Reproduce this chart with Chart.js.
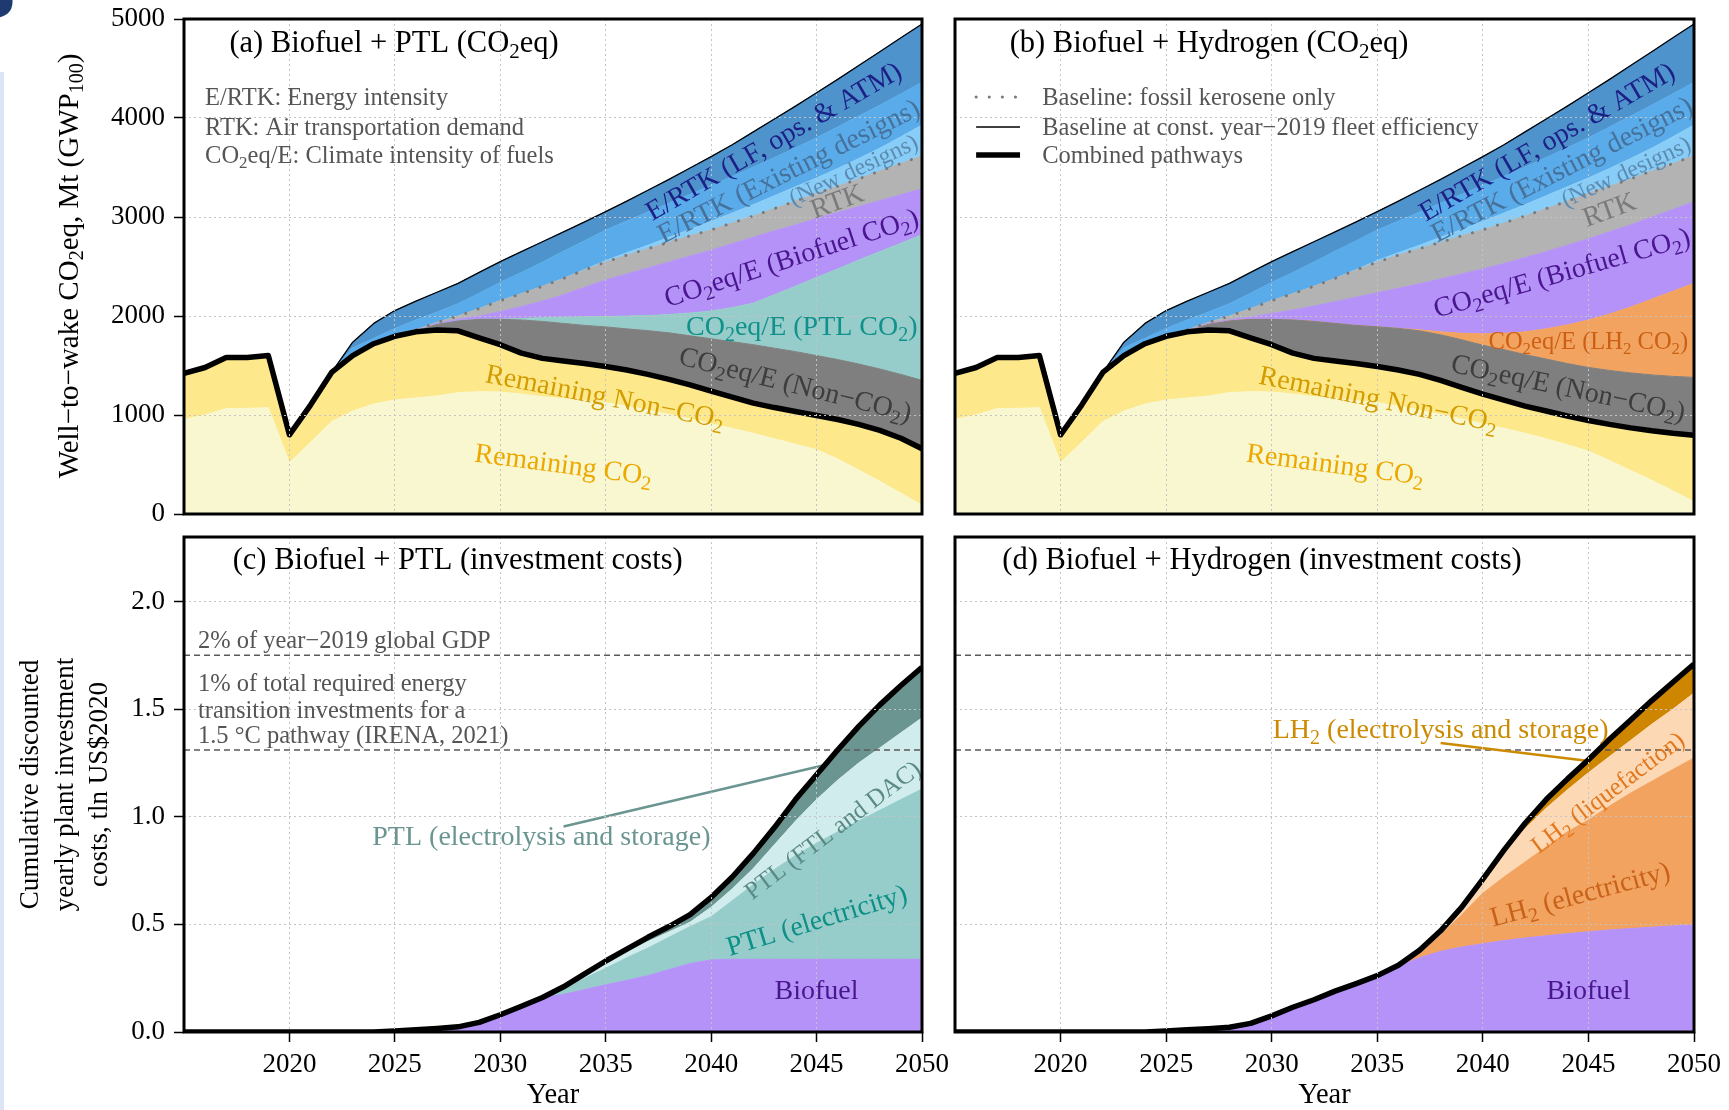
<!DOCTYPE html>
<html>
<head>
<meta charset="utf-8">
<title>Aviation CO2eq pathways and investment costs</title>
<script src="https://cdn.jsdelivr.net/npm/chart.js@4/dist/chart.umd.min.js"></script>
<style>
  html, body { margin: 0; padding: 0; background: #fff; }
  #page { position: relative; width: 1729px; height: 1110px; overflow: hidden; background: #fff; }
  canvas { position: absolute; }
  #edge { position: absolute; left: 0; top: 72px; width: 4px; height: 1038px; background: #dce5f5; }
  #glyph { position: absolute; left: -34px; top: -50px; line-height: 1; font: bold 72px 'DejaVu Sans', sans-serif; color: #1e3a70; }
</style>
</head>
<body>
<div id="page">
  <div id="edge"></div>
  <div id="glyph">S</div>
  <canvas id="chartA" width="940" height="528" style="left:0;top:0"></canvas>
  <canvas id="chartB" width="789" height="528" style="left:940px;top:0"></canvas>
  <canvas id="chartC" width="960" height="582" style="left:0;top:528px"></canvas>
  <canvas id="chartD" width="789" height="582" style="left:940px;top:528px"></canvas>
</div>
<script>
// ---------- data ----------
const YEARS = [2015,2016,2017,2018,2019,2020,2021,2022,2023,2024,2025,2026,2027,2028,2029,2030,2031,2032,2033,2034,
               2035,2036,2037,2038,2039,2040,2041,2042,2043,2044,2045,2046,2047,2048,2049,2050];
const X_TICKS = [2020, 2025, 2030, 2035, 2040, 2045, 2050];
const Y_TICKS_CO2 = [0, 1000, 2000, 3000, 4000, 5000];
const Y_TICKS_COST = [0, 0.5, 1.0, 1.5, 2.0];
const DOTTED_FROM = 2026;

// Panel (a) and (b): cumulative levels of the emission bands, Mt CO2eq
const baselineConst2019 = [1420,1480,1580,1580,1600,800,1100,1430,1735,1925, 2055,2150,2240,2330,2440,2549,2650,2750,2850,2950,
                           3054,3160,3270,3380,3495,3610,3730,3860,3990,4120, 4255,4390,4530,4670,4810,4950];
const existingDesignsTop = [1420,1480,1580,1580,1600,800,1100,1430,1680,1775, 1875,1960,2040,2125,2230,2340,2440,2545,2655,2760,
                            2869,2960,3050,3140,3230,3320,3410,3505,3600,3700, 3800,3910,4020,4130,4245,4360];
const newDesignsTop = [1420,1480,1580,1580,1600,800,1100,1430,1600,1720, 1795,1860,1935,2000,2075,2155,2225,2300,2380,2470,
                       2560,2640,2715,2795,2875,2955,3040,3125,3215,3305, 3395,3490,3590,3695,3810,3930];
const fossilKeroseneOnly = [1420,1480,1580,1580,1600,800,1100,1430,1600,1720, 1795,1860,1935,2000,2075,2155,2225,2300,2380,2465,
                            2545,2615,2680,2745,2810,2870,2940,3010,3085,3160, 3240,3310,3385,3465,3540,3620];

const biofuelTopA = [1420,1480,1580,1580,1600,800,1100,1430,1600,1720, 1795,1850,1925,1965,2000,2044,2095,2150,2215,2290,
                     2364,2425,2485,2545,2605,2665,2730,2795,2860,2920, 2985,3045,3105,3165,3225,3285];
const ptlTopA = [1420,1480,1580,1580,1600,800,1100,1430,1600,1720, 1795,1845,1915,1950,1966,1968,1975,1983,1988,1992,
                 1995,2000,2005,2015,2030,2050,2085,2130,2215,2300, 2390,2475,2565,2650,2735,2820];
const nonCO2TopA = [1420,1480,1580,1580,1600,800,1100,1430,1600,1720, 1795,1845,1915,1950,1966,1966,1960,1945,1925,1905,
                    1890,1870,1852,1830,1800,1770,1740,1710,1675,1640, 1600,1560,1515,1465,1410,1350];
const combinedA = [1420,1480,1580,1580,1600,800,1100,1430,1600,1720, 1795,1840,1858,1850,1780,1710,1625,1572,1545,1520,
                   1490,1455,1410,1360,1305,1240,1180,1120,1075,1035, 995,955,905,845,765,660];
const remainingCO2A = [956,1000,1065,1067,1074,518,724,933,1040,1111, 1152,1172,1192,1226,1236,1232,1212,1185,1165,1145,
                       1125,1090,1050,1005,960,910,865,815,760,705, 650,555,445,330,210,90];

const biofuelTopB = [1420,1480,1580,1580,1600,800,1100,1430,1600,1720, 1795,1850,1925,1960,1990,2025,2060,2100,2145,2190,
                     2235,2280,2325,2375,2425,2475,2530,2590,2650,2715, 2780,2850,2920,3000,3075,3155];
const lh2TopB = [1420,1480,1580,1580,1600,800,1100,1430,1600,1720, 1795,1845,1915,1950,1966,1966,1960,1945,1925,1905,
                 1890,1875,1860,1840,1825,1820,1825,1840,1870,1910, 1960,2020,2090,2170,2250,2330];
const nonCO2TopB = [1420,1480,1580,1580,1600,800,1100,1430,1600,1720, 1795,1845,1915,1950,1966,1966,1960,1945,1925,1905,
                    1890,1875,1850,1810,1760,1705,1660,1610,1565,1520, 1480,1450,1425,1405,1390,1380];
const combinedB = [1420,1480,1580,1580,1600,800,1100,1430,1600,1720, 1795,1840,1858,1850,1780,1710,1625,1572,1545,1520,
                   1490,1455,1410,1350,1280,1210,1150,1090,1040,990, 945,905,870,840,815,795];
const remainingCO2B = [956,1000,1065,1067,1074,518,724,933,1040,1111, 1152,1172,1192,1226,1236,1232,1212,1185,1165,1145,
                       1125,1090,1050,1005,960,910,865,815,760,700, 635,540,440,340,235,125];

// Panel (c) and (d): cumulative discounted investment levels, tln US$2020
const combinedC = [0,0,0,0,0,0,0,0,0,0, 0.005,0.01,0.016,0.024,0.045,0.08,0.12,0.16,0.21,0.27,
                   0.33,0.385,0.44,0.49,0.545,0.625,0.72,0.83,0.95,1.08, 1.195,1.31,1.42,1.52,1.61,1.695];
const ftlDacTopC = [0,0,0,0,0,0,0,0,0,0, 0.005,0.01,0.016,0.024,0.045,0.08,0.12,0.16,0.208,0.265,
                    0.32,0.37,0.42,0.465,0.51,0.58,0.665,0.76,0.87,0.98, 1.08,1.17,1.25,1.32,1.39,1.46];
const ptlElecTopC = [0,0,0,0,0,0,0,0,0,0, 0.005,0.01,0.016,0.024,0.045,0.08,0.12,0.16,0.2,0.25,
                     0.296,0.345,0.39,0.44,0.49,0.536,0.61,0.685,0.755,0.82, 0.877,0.93,0.98,1.03,1.08,1.129];
const biofuelC = [0,0,0,0,0,0,0,0,0,0, 0.005,0.01,0.016,0.024,0.045,0.08,0.12,0.16,0.175,0.197,
                  0.219,0.24,0.262,0.29,0.318,0.335,0.338,0.338,0.338,0.338, 0.338,0.338,0.338,0.338,0.338,0.338];

const combinedD = [0,0,0,0,0,0,0,0,0,0, 0.005,0.01,0.015,0.022,0.04,0.075,0.115,0.15,0.19,0.225,
                   0.262,0.31,0.38,0.47,0.58,0.71,0.845,0.97,1.08,1.175, 1.265,1.36,1.45,1.54,1.625,1.71];
const liquefactionTopD = [0,0,0,0,0,0,0,0,0,0, 0.005,0.01,0.015,0.022,0.04,0.075,0.115,0.15,0.19,0.225,
                          0.262,0.31,0.38,0.47,0.58,0.705,0.83,0.945,1.04,1.125, 1.205,1.28,1.355,1.43,1.5,1.575];
const lh2ElecTopD = [0,0,0,0,0,0,0,0,0,0, 0.005,0.01,0.015,0.022,0.04,0.075,0.115,0.15,0.19,0.225,
                     0.262,0.31,0.375,0.45,0.545,0.645,0.72,0.79,0.86,0.93, 0.985,1.05,1.11,1.165,1.22,1.273];
const biofuelD = [0,0,0,0,0,0,0,0,0,0, 0.005,0.01,0.015,0.022,0.04,0.075,0.115,0.15,0.19,0.225,
                  0.262,0.305,0.345,0.375,0.395,0.41,0.425,0.437,0.447,0.457, 0.466,0.474,0.481,0.487,0.493,0.498];

const GDP_2PCT_2019 = 1.75;
const IRENA_1PCT = 1.31;
const leaderPTL = [[2033.0, 0.955], [2045.8, 1.25]];
const leaderLH2 = [[2038.0, 1.343], [2045.5, 1.253]];

// ---------- styling ----------
const FONT = "'Liberation Serif', 'Times New Roman', serif";
Chart.defaults.font.family = FONT;
const C = {
  remCO2: '#f8f7cf', remNon: '#fde98c', nonCO2: '#7f7f7f', ptl: '#96cdca', bio: '#b592f8',
  rtk: '#b3b3b3', newD: '#88cdf7', exist: '#5aabea', lf: '#4f93cc', lh2co2: '#f2a35f',
  ftl: '#d0ecec', ptlElys: '#6a9590', peach: '#fdd8b4', lh2Elys: '#ce8600'
};
const TICK_SIZE = 27, BAND_SIZE = 28, TITLE_SIZE = 30.5, NOTE_SIZE = 24.5;

const pts = arr => YEARS.map((x, i) => ({ x, y: arr[i] }));
function band(label, arr, color, fill) {
  return { label, data: pts(arr), fill, backgroundColor: color, borderColor: color, borderWidth: 1,
           pointRadius: 0, tension: 0, order: 10 };
}
function stroke(label, data, color, width, extra) {
  return Object.assign({ label, data, fill: false, borderColor: color, borderWidth: width,
           pointRadius: 0, tension: 0, borderJoinStyle: 'round' }, extra || {});
}

// rich text with _{...} subscripts
function drawRich(ctx, str, x, y, o) {
  const parts = []; const re = /_\{([^}]*)\}/g; let last = 0, m;
  while ((m = re.exec(str))) {
    if (m.index > last) parts.push({ t: str.slice(last, m.index), sub: false });
    parts.push({ t: m[1], sub: true }); last = re.lastIndex;
  }
  if (last < str.length) parts.push({ t: str.slice(last), sub: false });
  const size = o.size || BAND_SIZE;
  const fMain = size + 'px ' + FONT, fSub = Math.round(size * 0.7) + 'px ' + FONT;
  let w = 0;
  parts.forEach(p => { ctx.font = p.sub ? fSub : fMain; p.w = ctx.measureText(p.t).width; w += p.w; });
  ctx.save();
  ctx.translate(x, y);
  ctx.rotate((o.angle || 0) * Math.PI / 180);
  ctx.fillStyle = o.color || '#000';
  ctx.textBaseline = 'alphabetic';
  let cx = o.align === 'left' ? 0 : -w / 2;
  const base = size * 0.33;
  parts.forEach(p => { ctx.font = p.sub ? fSub : fMain; ctx.fillText(p.t, cx, base + (p.sub ? size * 0.2 : 0)); cx += p.w; });
  ctx.restore();
}

function decor(cfg) {
  return {
    id: 'decor',
    afterDraw(chart) {
      const { ctx, chartArea: a, scales: { x, y } } = chart;
      const px = v => x.getPixelForValue(v), py = v => y.getPixelForValue(v);
      (cfg.labels || []).forEach(l => drawRich(ctx, l.t, px(l.x), py(l.y), l));
      if (cfg.legend) {
        const L = cfg.legend;
        ctx.save();
        L.rows.forEach(r => {
          ctx.beginPath();
          ctx.setLineDash(r.dash || []);
          ctx.lineCap = r.dash ? 'round' : 'butt';
          ctx.strokeStyle = r.color; ctx.lineWidth = r.width;
          ctx.moveTo(px(L.x0), py(r.y)); ctx.lineTo(px(L.x1), py(r.y)); ctx.stroke();
          drawRich(ctx, r.t, px(L.xt), py(r.y), { size: NOTE_SIZE, color: '#555', align: 'left' });
        });
        ctx.restore();
      }
      if (cfg.yTitle) drawRich(ctx, cfg.yTitle.t, cfg.yTitle.x, cfg.yTitle.y, cfg.yTitle);
      ctx.save();
      ctx.strokeStyle = '#000'; ctx.lineWidth = 3;
      ctx.strokeRect(a.left, a.top, a.right - a.left, a.bottom - a.top);
      ctx.restore();
    }
  };
}

function noOverflow(s) { s.paddingLeft = 0; s.paddingRight = 0; s.paddingTop = 0; s.paddingBottom = 0; }
function xScale(showLabels) {
  return {
    type: 'linear', min: 2015, max: 2050,
    afterBuildTicks: s => { s.ticks = X_TICKS.map(v => ({ value: v })); },
    grid: { color: '#c4c4c4', lineWidth: 1, z: 1, drawTicks: showLabels, tickLength: 10,
            tickColor: '#000', tickWidth: 1.5, tickBorderDash: [] },
    border: { display: false, dash: [2, 3] },
    ticks: { display: showLabels, font: { size: TICK_SIZE }, color: '#000', padding: 7, maxRotation: 0,
             autoSkip: false, callback: v => String(v) },
    title: { display: showLabels, text: 'Year', color: '#000', font: { size: 28.5, lineHeight: 1.0 },
             padding: { top: 0, bottom: 0 } },
    afterFit: s => { s.height = showLabels ? 78 : 0; noOverflow(s); }
  };
}
function yScale(max, ticks, showLabels, fmt, title) {
  return {
    type: 'linear', min: 0, max,
    afterBuildTicks: s => { s.ticks = ticks.map(v => ({ value: v })); },
    grid: { color: '#c4c4c4', lineWidth: 1, z: 1, drawTicks: showLabels, tickLength: 10,
            tickColor: '#000', tickWidth: 1.5, tickBorderDash: [] },
    border: { display: false, dash: [2, 3] },
    ticks: { display: showLabels, font: { size: TICK_SIZE }, color: '#000', padding: 9, callback: fmt },
    title: title || { display: false },
    afterFit: s => { s.width = showLabels ? 184 : 0; noOverflow(s); }
  };
}
function makeChart(id, datasets, scales, padding, deco) {
  return new Chart(document.getElementById(id), {
    type: 'line',
    data: { datasets },
    options: {
      responsive: false, animation: false, devicePixelRatio: 1, events: [],
      layout: { padding },
      plugins: { legend: { display: false }, tooltip: { enabled: false } },
      scales
    },
    plugins: [decor(deco)]
  });
}

const dottedFrom = arr => YEARS.map((x, i) => ({ x, y: x >= DOTTED_FROM ? arr[i] : null }));
const hline = v => [{ x: 2015, y: v }, { x: 2050, y: v }];
const seg = p => p.map(([x, y]) => ({ x, y }));
const dotStyle = { borderDash: [0.1, 13], borderCapStyle: 'round', order: 1 };

// ---------- (a) Biofuel + PTL, CO2eq ----------
makeChart('chartA', [
  band('Remaining CO2', remainingCO2A, C.remCO2, 'origin'),
  band('Remaining Non-CO2', combinedA, C.remNon, '-1'),
  band('CO2eq/E (Non-CO2)', nonCO2TopA, C.nonCO2, '-1'),
  band('CO2eq/E (PTL CO2)', ptlTopA, C.ptl, '-1'),
  band('CO2eq/E (Biofuel CO2)', biofuelTopA, C.bio, '-1'),
  band('RTK', fossilKeroseneOnly, C.rtk, '-1'),
  band('E/RTK (New designs)', newDesignsTop, C.newD, '-1'),
  band('E/RTK (Existing designs)', existingDesignsTop, C.exist, '-1'),
  band('E/RTK (LF, ops. & ATM)', baselineConst2019, C.lf, '-1'),
  stroke('Baseline at const. year-2019 fleet efficiency', pts(baselineConst2019), '#000', 1.3, { order: 2 }),
  stroke('Baseline: fossil kerosene only', dottedFrom(fossilKeroseneOnly), '#7a7a7a', 3, dotStyle),
  stroke('Combined pathways', pts(combinedA), '#000', 5.5, { order: 0 })
], { x: xScale(false), y: yScale(5000, Y_TICKS_CO2, true, v => String(v)) },
{ left: 0, right: 18, top: 19, bottom: 14 },
{
  labels: [
    { t: '(a) Biofuel + PTL (CO_{2}eq)', x: 2024.96, y: 4768, size: TITLE_SIZE, color: '#000' },
    { t: 'E/RTK: Energy intensity', x: 2016.0, y: 4212, size: NOTE_SIZE, color: '#555', align: 'left' },
    { t: 'RTK: Air transportation demand', x: 2016.0, y: 3909, size: NOTE_SIZE, color: '#555', align: 'left' },
    { t: 'CO_{2}eq/E: Climate intensity of fuels', x: 2016.0, y: 3626, size: NOTE_SIZE, color: '#555', align: 'left' },
    { t: 'E/RTK (LF, ops. & ATM)', x: 2042.95, y: 3770, angle: -30, color: '#1c1f86' },
    { t: 'E/RTK (Existing designs)', x: 2043.66, y: 3468, angle: -26.6, color: '#46719a' },
    { t: '(New designs)', x: 2046.74, y: 3477, angle: -25, size: 24, color: '#5d8bb0' },
    { t: 'RTK', x: 2045.96, y: 3165, angle: -20, color: '#7b7b7b' },
    { t: 'CO_{2}eq/E (Biofuel CO_{2})', x: 2043.8, y: 2593, angle: -18, color: '#4a168f' },
    { t: 'CO_{2}eq/E (PTL CO_{2})', x: 2044.3, y: 1902, color: '#11918b' },
    { t: 'CO_{2}eq/E (Non\u2212CO_{2})', x: 2044.0, y: 1313, angle: 14, color: '#3d3d3d' },
    { t: 'Remaining Non\u2212CO_{2}', x: 2034.97, y: 1192, angle: 11, color: '#d39c00' },
    { t: 'Remaining CO_{2}', x: 2033.0, y: 505, angle: 7.5, color: '#eca800' }
  ],
  yTitle: { t: 'Well\u2212to\u2212wake CO_{2}eq, Mt (GWP_{100})', x: 68, y: 266, angle: -90, size: 29, color: '#000' }
});

// ---------- (b) Biofuel + Hydrogen, CO2eq ----------
makeChart('chartB', [
  band('Remaining CO2', remainingCO2B, C.remCO2, 'origin'),
  band('Remaining Non-CO2', combinedB, C.remNon, '-1'),
  band('CO2eq/E (Non-CO2)', nonCO2TopB, C.nonCO2, '-1'),
  band('CO2eq/E (LH2 CO2)', lh2TopB, C.lh2co2, '-1'),
  band('CO2eq/E (Biofuel CO2)', biofuelTopB, C.bio, '-1'),
  band('RTK', fossilKeroseneOnly, C.rtk, '-1'),
  band('E/RTK (New designs)', newDesignsTop, C.newD, '-1'),
  band('E/RTK (Existing designs)', existingDesignsTop, C.exist, '-1'),
  band('E/RTK (LF, ops. & ATM)', baselineConst2019, C.lf, '-1'),
  stroke('Baseline at const. year-2019 fleet efficiency', pts(baselineConst2019), '#000', 1.3, { order: 2 }),
  stroke('Baseline: fossil kerosene only', dottedFrom(fossilKeroseneOnly), '#7a7a7a', 3, dotStyle),
  stroke('Combined pathways', pts(combinedB), '#000', 5.5, { order: 0 })
], { x: xScale(false), y: yScale(5000, Y_TICKS_CO2, false) },
{ left: 15, right: 35, top: 19, bottom: 14 },
{
  labels: [
    { t: '(b) Biofuel + Hydrogen (CO_{2}eq)', x: 2027.03, y: 4768, size: TITLE_SIZE, color: '#000' },
    { t: 'E/RTK (LF, ops. & ATM)', x: 2043.02, y: 3763, angle: -30, color: '#1c1f86' },
    { t: 'E/RTK (Existing designs)', x: 2043.73, y: 3485, angle: -27, color: '#46719a' },
    { t: '(New designs)', x: 2046.77, y: 3460, angle: -24.5, size: 24, color: '#5d8bb0' },
    { t: 'RTK', x: 2045.98, y: 3081, angle: -20, color: '#7b7b7b' },
    { t: 'CO_{2}eq/E (Biofuel CO_{2})', x: 2043.73, y: 2441, angle: -16, color: '#4a168f' },
    { t: 'CO_{2}eq/E (LH_{2} CO_{2})', x: 2045.0, y: 1751, size: 24.5, color: '#cc5f14' },
    { t: 'CO_{2}eq/E (Non\u2212CO_{2})', x: 2044.05, y: 1280, angle: 12, color: '#3d3d3d' },
    { t: 'Remaining Non\u2212CO_{2}', x: 2035.06, y: 1166, angle: 11.5, color: '#d39c00' },
    { t: 'Remaining CO_{2}', x: 2033.01, y: 505, angle: 7.5, color: '#eca800' }
  ],
  legend: {
    x0: 2016.0, x1: 2018.08, xt: 2019.13,
    rows: [
      { t: 'Baseline: fossil kerosene only', y: 4212, color: '#7a7a7a', width: 3, dash: [0.1, 13] },
      { t: 'Baseline at const. year\u22122019 fleet efficiency', y: 3909, color: '#000', width: 1.3 },
      { t: 'Combined pathways', y: 3626, color: '#000', width: 5.5 }
    ]
  }
});

// ---------- (c) Biofuel + PTL, investment costs ----------
const costTitle = { display: true, color: '#000',
  text: ['Cumulative discounted', 'yearly plant investment', 'costs, tln US$2020'],
  font: { size: 27, lineHeight: 1.28 }, padding: { top: 14, bottom: 0 } };
makeChart('chartC', [
  band('Biofuel', biofuelC, C.bio, 'origin'),
  band('PTL (electricity)', ptlElecTopC, C.ptl, '-1'),
  band('PTL (FTL and DAC)', ftlDacTopC, C.ftl, '-1'),
  band('PTL (electrolysis and storage)', combinedC, C.ptlElys, '-1'),
  stroke('2% of year-2019 global GDP', hline(GDP_2PCT_2019), '#5a5a5a', 1.5, { borderDash: [6, 4], order: 3 }),
  stroke('1% of required energy transition investments', hline(IRENA_1PCT), '#5a5a5a', 1.5, { borderDash: [6, 4], order: 3 }),
  stroke('PTL (electrolysis and storage) pointer', seg(leaderPTL), C.ptlElys, 2.5, { order: 2 }),
  stroke('Combined pathways', pts(combinedC), '#000', 5.5, { order: 0 })
], { x: xScale(true), y: yScale(2.3, Y_TICKS_COST, true, v => v.toFixed(1), costTitle) },
{ left: 0, right: 38, top: 9, bottom: 0 },
{
  labels: [
    { t: '(c) Biofuel + PTL (investment costs)', x: 2027.98, y: 2.2, size: TITLE_SIZE, color: '#000' },
    { t: '2% of year\u22122019 global GDP', x: 2015.66, y: 1.823, size: NOTE_SIZE, color: '#555', align: 'left' },
    { t: '1% of total required energy', x: 2015.66, y: 1.62, size: NOTE_SIZE, color: '#555', align: 'left' },
    { t: 'transition investments for a', x: 2015.66, y: 1.498, size: NOTE_SIZE, color: '#555', align: 'left' },
    { t: '1.5 \u00B0C pathway (IRENA, 2021)', x: 2015.66, y: 1.379, size: NOTE_SIZE, color: '#555', align: 'left' },
    { t: 'PTL (electrolysis and storage)', x: 2031.95, y: 0.912, color: '#6a9590' },
    { t: 'PTL (FTL and DAC)', x: 2045.75, y: 0.94, angle: -37, size: 25, color: '#5b8a85' },
    { t: 'PTL (electricity)', x: 2045.0, y: 0.521, angle: -17, color: '#0e8f88' },
    { t: 'Biofuel', x: 2045.0, y: 0.195, color: '#4a168f' }
  ]
});

// ---------- (d) Biofuel + Hydrogen, investment costs ----------
makeChart('chartD', [
  band('Biofuel', biofuelD, C.bio, 'origin'),
  band('LH2 (electricity)', lh2ElecTopD, C.lh2co2, '-1'),
  band('LH2 (liquefaction)', liquefactionTopD, C.peach, '-1'),
  band('LH2 (electrolysis and storage)', combinedD, C.lh2Elys, '-1'),
  stroke('2% of year-2019 global GDP', hline(GDP_2PCT_2019), '#5a5a5a', 1.5, { borderDash: [6, 4], order: 3 }),
  stroke('1% of required energy transition investments', hline(IRENA_1PCT), '#5a5a5a', 1.5, { borderDash: [6, 4], order: 3 }),
  stroke('LH2 (electrolysis and storage) pointer', seg(leaderLH2), '#cc8a00', 2.5, { order: 2 }),
  stroke('Combined pathways', pts(combinedD), '#000', 5.5, { order: 0 })
], { x: xScale(true), y: yScale(2.3, Y_TICKS_COST, false) },
{ left: 15, right: 35, top: 9, bottom: 0 },
{
  labels: [
    { t: '(d) Biofuel + Hydrogen (investment costs)', x: 2029.54, y: 2.2, size: TITLE_SIZE, color: '#000' },
    { t: 'LH_{2} (electrolysis and storage)', x: 2038.0, y: 1.409, color: '#cc8a00' },
    { t: 'LH_{2} (liquefaction)', x: 2045.9, y: 1.114, angle: -37, size: 25, color: '#e2781e' },
    { t: 'LH_{2} (electricity)', x: 2044.6, y: 0.642, angle: -15, color: '#c8621a' },
    { t: 'Biofuel', x: 2045.0, y: 0.195, color: '#4a168f' }
  ]
});
</script>
</body>
</html>
